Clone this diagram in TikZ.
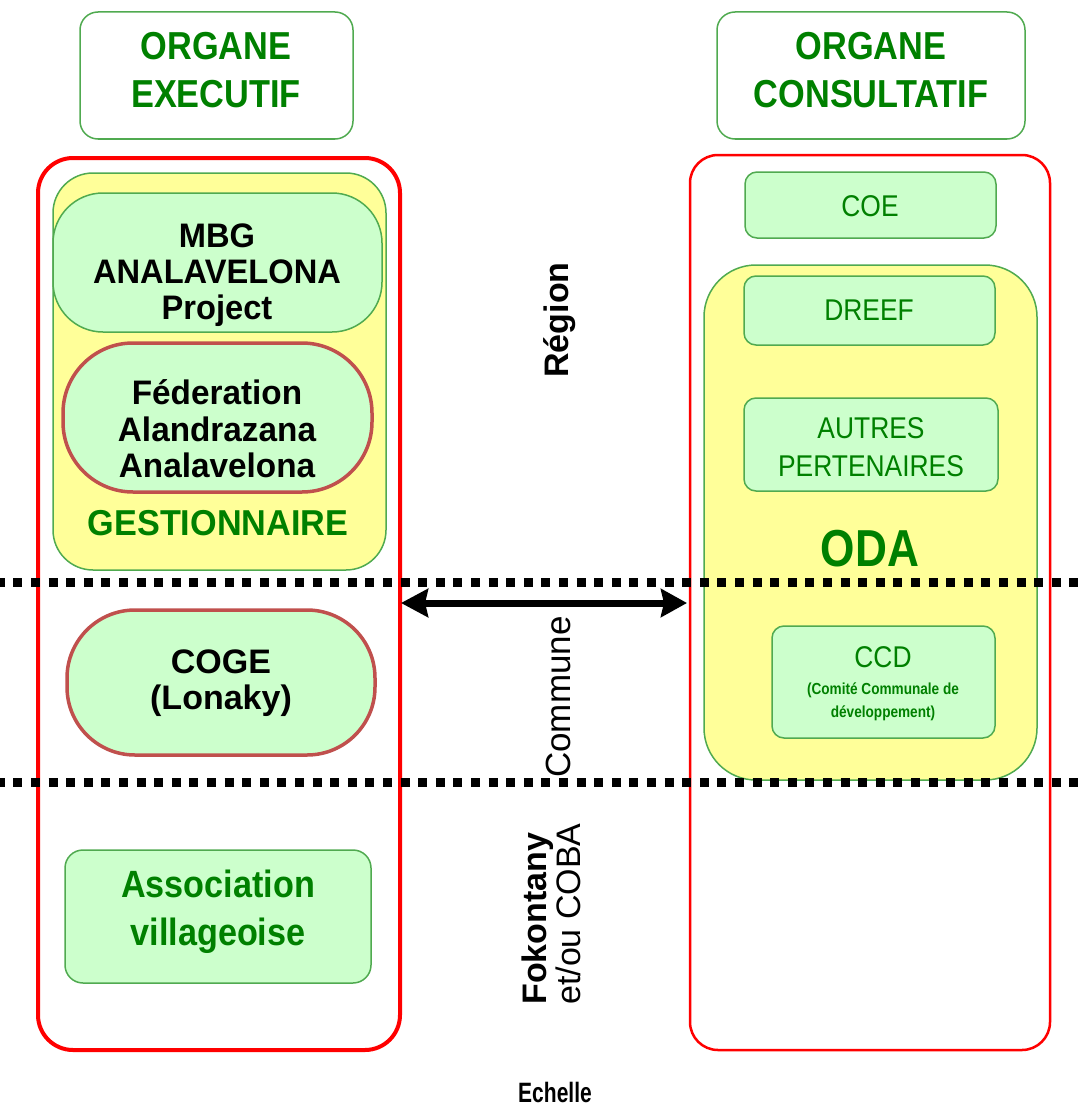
\documentclass[tikz,border=0pt]{standalone}
\usepackage{fontspec}
\setmainfont{Liberation Sans}
\usetikzlibrary{arrows.meta}
\definecolor{gtxt}{RGB}{0,128,0}
\definecolor{gbord}{RGB}{80,170,80}
\definecolor{lgreen}{RGB}{204,255,204}
\definecolor{yfill}{RGB}{255,255,153}
\definecolor{brownr}{RGB}{192,80,77}
\newcommand{\sqz}[2]{\scalebox{#1}[1]{\begin{tabular}{@{}c@{}}#2\end{tabular}}}
\newcommand{\fsz}[2]{\fontsize{#1}{#2}\selectfont}
\begin{document}
\begin{tikzpicture}[x=1pt,y=-1pt,
  hdrbox/.style={draw=gbord, line width=1.5, rounded corners=18, inner sep=0},
  redbox/.style={draw=red, rounded corners=35, inner sep=0},
  ybox/.style={draw=gbord, fill=yfill, line width=1.5, inner sep=0},
  gbox/.style={draw=gbord, fill=lgreen, line width=1.5, rounded corners=12, inner sep=0},
  stad/.style={draw=brownr, fill=lgreen, line width=3.5, inner sep=0},
  txt/.style={inner sep=0, align=center},
  dotline/.style={line width=9, dash pattern=on 9 off 8.6, dash phase=4.2},
  arr/.style={line width=7, {Stealth[length=27pt,width=28pt,inset=3pt]}-{Stealth[length=26pt,width=28pt,inset=3pt]}}
]
\useasboundingbox (0,0) rectangle (1082,1113);

% headers
\node[hdrbox, minimum width=273, minimum height=127] (hdrL) at (216.5,75.5) {};
\node[txt, text=gtxt, font=\bfseries\fsz{39}{48}] (hdrLt) at (216,74) {\sqz{0.88}{ORGANE\\EXECUTIF}};
\node[hdrbox, minimum width=308, minimum height=127] (hdrR) at (871,75.5) {};
\node[txt, text=gtxt, font=\bfseries\fsz{39}{48}] (hdrRt) at (871,74) {\sqz{0.88}{ORGANE\\CONSULTATIF}};

% left column
\node[redbox, line width=4, minimum width=362, minimum height=892] (redL) at (219,604) {};
\node[ybox, rounded corners=40, minimum width=333, minimum height=397] (yelL) at (219.5,371.5) {};
\node[gbox, rounded corners=50, minimum width=329, minimum height=139] (mbg) at (217.5,262.5) {};
\node[txt, font=\bfseries\fsz{34}{36}] (mbgt) at (217,276) {\sqz{0.96}{MBG\\ANALAVELONA\\Project}};
\node[stad, rounded corners=70, minimum width=309, minimum height=149] (fed) at (217.5,417.5) {};
\node[txt, font=\bfseries\fsz{34}{36.5}] (fedt) at (217,434) {\sqz{0.98}{Féderation\\Alandrazana\\Analavelona}};
\node[txt, text=gtxt, font=\bfseries\fsz{36}{43}] (gest) at (218,527) {\sqz{0.95}{GESTIONNAIRE}};
\node[stad, rounded corners=68, minimum width=308, minimum height=145] (coge) at (221,682.5) {};
\node[txt, font=\bfseries\fsz{34}{36}] (coget) at (221,684) {\sqz{1}{COGE\\(Lonaky)}};
\node[gbox, rounded corners=18, minimum width=306, minimum height=133] (assoc) at (218,916.5) {};
\node[txt, text=gtxt, font=\bfseries\fsz{38}{48}] (assoct) at (218,912) {\sqz{0.9}{Association\\villageoise}};

% right column
\node[redbox, line width=2.5, rounded corners=28, minimum width=360, minimum height=895] (redR) at (870,602.5) {};
\node[gbox, minimum width=251, minimum height=66] (coe) at (870.5,205) {};
\node[txt, text=gtxt, font=\fsz{30}{36}] (coet) at (870,209) {\sqz{0.88}{COE}};
\node[ybox, rounded corners=52, minimum width=333, minimum height=515] (yelR) at (870.5,522.5) {};
\node[gbox, minimum width=251, minimum height=69] (dreef) at (869.5,310.5) {};
\node[txt, text=gtxt, font=\fsz{30}{36}] (dreeft) at (869,313) {\sqz{0.88}{DREEF}};
\node[gbox, minimum width=254, minimum height=93] (autres) at (871,444.5) {};
\node[txt, text=gtxt, font=\fsz{30}{38}] (autrest) at (871,450) {\sqz{0.88}{AUTRES\\PERTENAIRES}};
\node[txt, text=gtxt, font=\bfseries\fsz{52}{60}] (oda) at (870,554) {\sqz{0.85}{ODA}};
\node[gbox, minimum width=223, minimum height=112] (ccd) at (883.5,682) {};
\node[txt, text=gtxt, font=\fsz{30}{36}] (ccdt) at (883,660) {\sqz{0.88}{CCD}};
\node[txt, text=gtxt, font=\bfseries\fsz{16}{23}] (ccds) at (883,701) {\sqz{0.85}{(Comité Communale de\\développement)}};

% scale labels
\node[inner sep=0, rotate=90, font=\bfseries\fsz{34}{36}] (reg) at (560,320) {Région};
\node[inner sep=0, rotate=90, font=\fsz{35}{38}] (com) at (558,697) {Commune};
\node[inner sep=0, rotate=90, align=left, font=\fsz{34}{34}] (fok) at (551,914) {\textbf{Fokontany}\\et/ou COBA};
\node[inner sep=0, font=\bfseries\fsz{28}{30}] (ech) at (555,1092) {\scalebox{0.75}[1]{Echelle}};

% dotted separators
\coordinate (d1L) at (0,582);
\coordinate (d1R) at (1082,582);
\coordinate (d2L) at (0,782);
\coordinate (d2R) at (1082,782);
\draw[dotline] (d1L) -- (d1R);
\draw[dotline] (d2L) -- (d2R);

% double arrow
\coordinate (aL) at (401,603);
\coordinate (aR) at (687,603);
\draw[arr] (aL) -- (aR);
\end{tikzpicture}
\end{document}
